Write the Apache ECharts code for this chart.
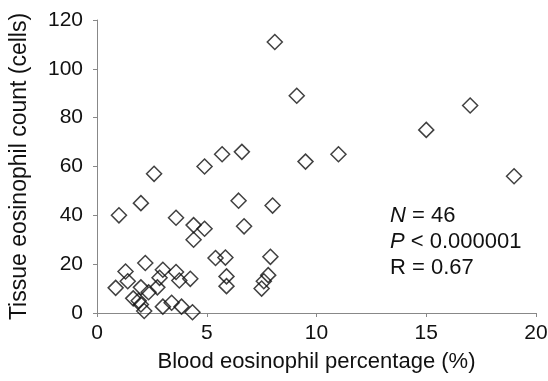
<!DOCTYPE html>
<html><head><meta charset="utf-8">
<script src="https://cdn.jsdelivr.net/npm/echarts@6/dist/echarts.min.js"></script>
<style>html,body{margin:0;padding:0;background:#fff}#c{width:548px;height:381px}</style>
</head><body><div id="c"></div>
<script>
const bloodPct = [8.1, 9.1, 17.0, 15.0, 6.6, 5.7, 11.0, 9.5, 4.9, 2.6, 19.0, 6.45, 2.0, 8.0, 1.0, 3.6, 4.4, 6.7, 4.9, 4.4,
  5.4, 5.85, 7.9, 5.9, 5.9, 7.8, 7.6, 7.5,
  2.2, 1.3, 0.85, 1.4, 2.0, 3.0, 3.6, 2.85, 3.75, 4.25, 2.35, 2.75, 1.65, 2.0, 2.15, 3.0, 3.4, 3.85, 4.35, 1.9];
const tissueCount = [111, 89, 85, 75, 66, 65, 65, 62, 60, 57, 56, 46, 45, 44, 40, 39, 36, 35.5, 34.5, 30,
  22.5, 22.7, 23, 15, 11, 15.5, 13, 10,
  20.5, 17, 10.3, 13, 10.5, 17.7, 16.8, 14.4, 13.3, 14, 8.5, 10.5, 6, 3.5, 0.8, 2.6, 4.2, 2.6, 0.3, 5];
const xTicks = [0, 5, 10, 15, 20];
const yTicks = [0, 20, 40, 60, 80, 100, 120];
const statsLines = ['N = 46', 'P < 0.000001', 'R = 0.67'];

const pts = bloodPct.map((x, i) => [x, tissueCount[i]]);
const chart = echarts.init(document.getElementById('c'));
const font = 'Liberation Sans, Arial, sans-serif';
const axisCol = '#888';
const statsText = statsLines.map(s => s.replace(/^([NP]) /, '{i|$1} ')).join('\n');
chart.setOption({
  animation: false,
  backgroundColor: '#fff',
  grid: { left: 97, right: 12, top: 20, bottom: 68, containLabel: false, outerBoundsMode: 'none' },
  xAxis: {
    type: 'value', min: xTicks[0], max: xTicks[xTicks.length - 1], interval: 5,
    name: 'Blood eosinophil percentage (%)', nameLocation: 'middle', nameGap: 38,
    nameTextStyle: { fontFamily: font, fontSize: 22, color: '#111' },
    axisLine: { lineStyle: { color: axisCol } },
    axisTick: { show: true, length: 4, lineStyle: { color: axisCol } },
    axisLabel: { fontFamily: font, fontSize: 21, color: '#111', margin: 10 },
    splitLine: { show: false }
  },
  yAxis: {
    type: 'value', min: yTicks[0], max: yTicks[yTicks.length - 1], interval: 20,
    name: 'Tissue eosinophil count (cells)', nameLocation: 'middle', nameGap: 66,
    nameTextStyle: { fontFamily: font, fontSize: 23, color: '#111' },
    axisLine: { show: true, lineStyle: { color: axisCol } },
    axisTick: { show: true, length: 4, lineStyle: { color: axisCol } },
    axisLabel: { fontFamily: font, fontSize: 21, color: '#111', margin: 14 },
    splitLine: { show: false }
  },
  series: [{
    type: 'scatter', data: pts, symbol: 'diamond', symbolSize: 15,
    itemStyle: { color: 'rgba(255,255,255,0)', borderColor: '#111', borderWidth: 1.5 }
  }],
  graphic: [{
    type: 'text', left: 390, top: 203,
    style: {
      text: statsText,
      fontFamily: font, fontSize: 22, lineHeight: 26, fill: '#111',
      rich: { i: { fontStyle: 'italic', fontFamily: font, fontSize: 22 } }
    }
  }]
});
</script></body></html>
